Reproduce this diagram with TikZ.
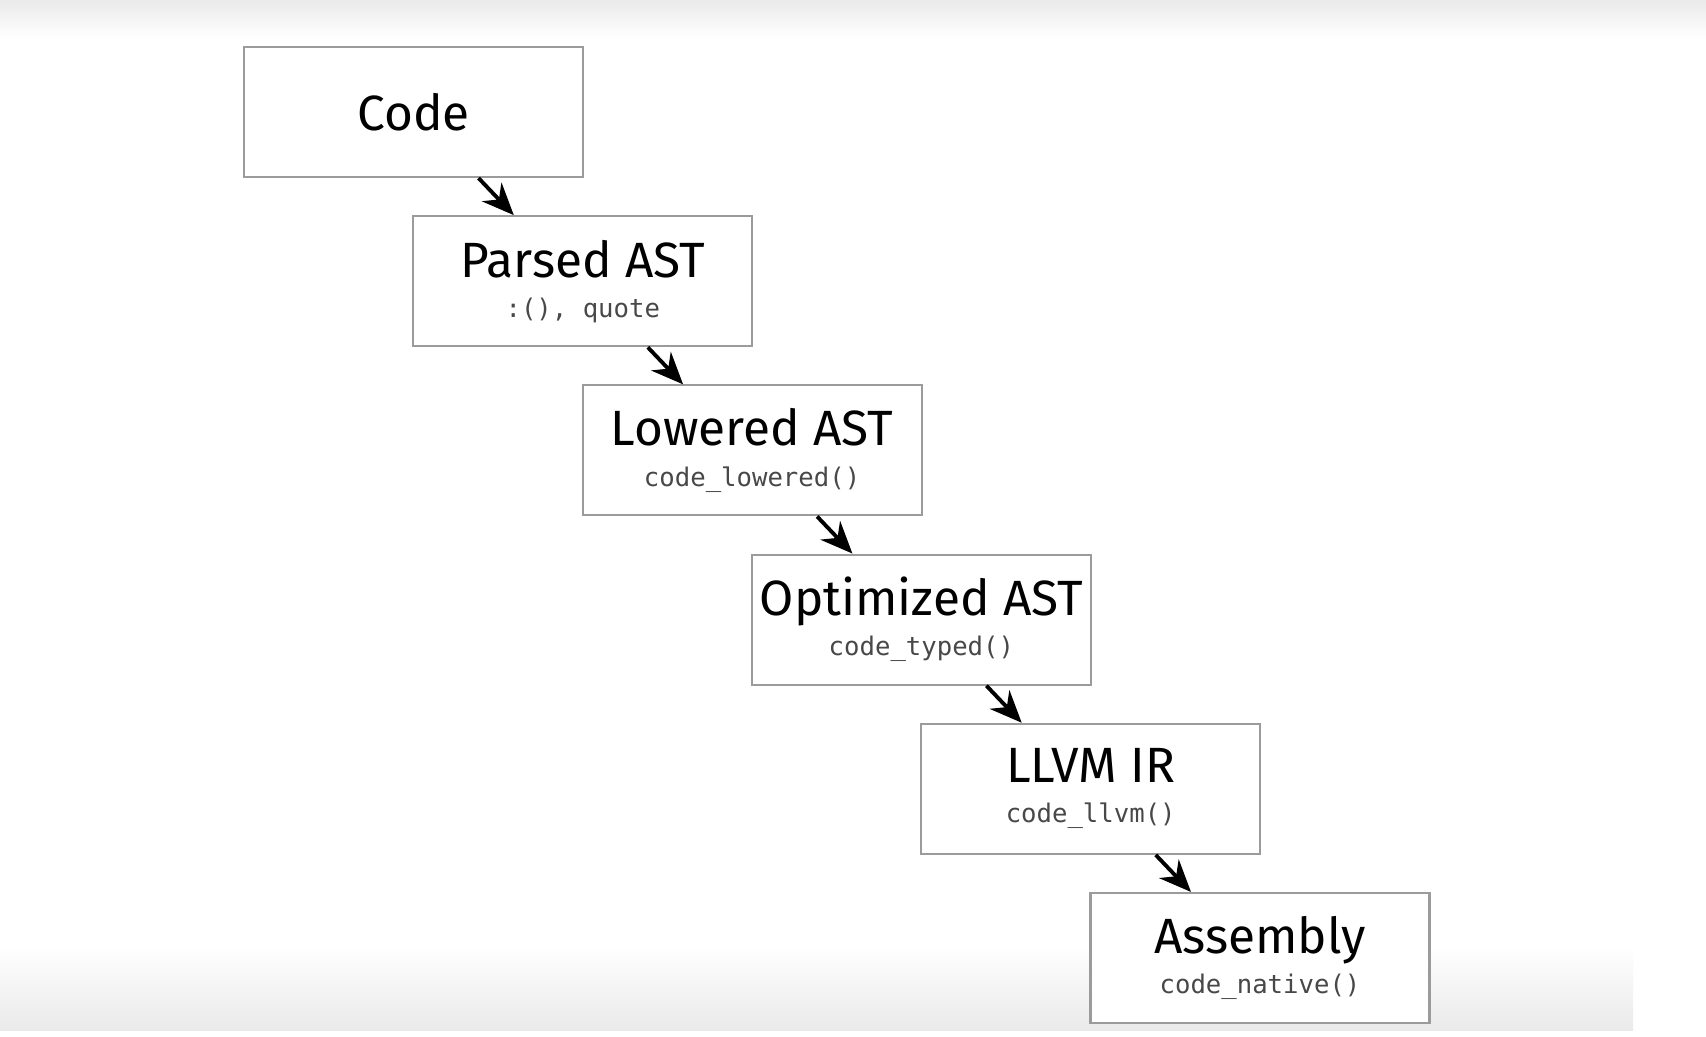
\documentclass[tikz,border=0pt]{standalone}
\usepackage{fontspec}
\setmainfont{Fira Sans}
\setmonofont{DejaVu Sans Mono}
\usetikzlibrary{arrows.meta}
\definecolor{boxgray}{RGB}{155,155,155}
\definecolor{subgray}{RGB}{72,72,72}
\definecolor{edgeshade}{RGB}{234,234,234}
\newcommand{\stagesub}[1]{\\{\ttfamily\fontsize{7.3}{9}\selectfont\color{subgray}#1}}
\tikzset{
  stage/.style={draw=boxgray, line width=0.6pt, fill=white, minimum width=3.39cm,
      minimum height=1.30cm, inner sep=0pt, align=center,
      font=\fontsize{14.1}{11.4}\selectfont},
  parr/.style={-{Stealth[length=3.2mm, width=2.7mm]}, line width=1.1pt, black},
}
\begin{document}
\begin{tikzpicture}
\useasboundingbox (0,0) rectangle (17.06,-10.36);
%---- the background
\fill[white] (0,0) rectangle (17.06,-10.36);
\shade[top color=edgeshade, bottom color=white] (0,0) rectangle (17.06,-0.38);
\shade[top color=white, bottom color=edgeshade] (0,-9.45) rectangle (16.33,-10.30);
%---- the stages
\node[stage] (code) at (4.135,-1.120) {Code};
\node[stage] (past) at (5.828,-2.812) {Parsed AST\stagesub{:(), quote}};
\node[stage] (last) at (7.521,-4.504) {Lowered AST\stagesub{code\_lowered()}};
\node[stage] (oast) at (9.214,-6.196) {Optimized AST\stagesub{code\_typed()}};
\node[stage] (llvm) at (10.907,-7.888) {LLVM IR\stagesub{code\_llvm()}};
\node[stage] (asm) at (12.600,-9.580) {Assembly\stagesub{code\_native()}};
%---- the arrows
\foreach \a/\b in {code/past, past/last, last/oast, oast/llvm, llvm/asm}
  \draw[parr] ([xshift=6.5mm]\a.south) -- ([xshift=-6.9mm]\b.north);
\end{tikzpicture}
\end{document}
